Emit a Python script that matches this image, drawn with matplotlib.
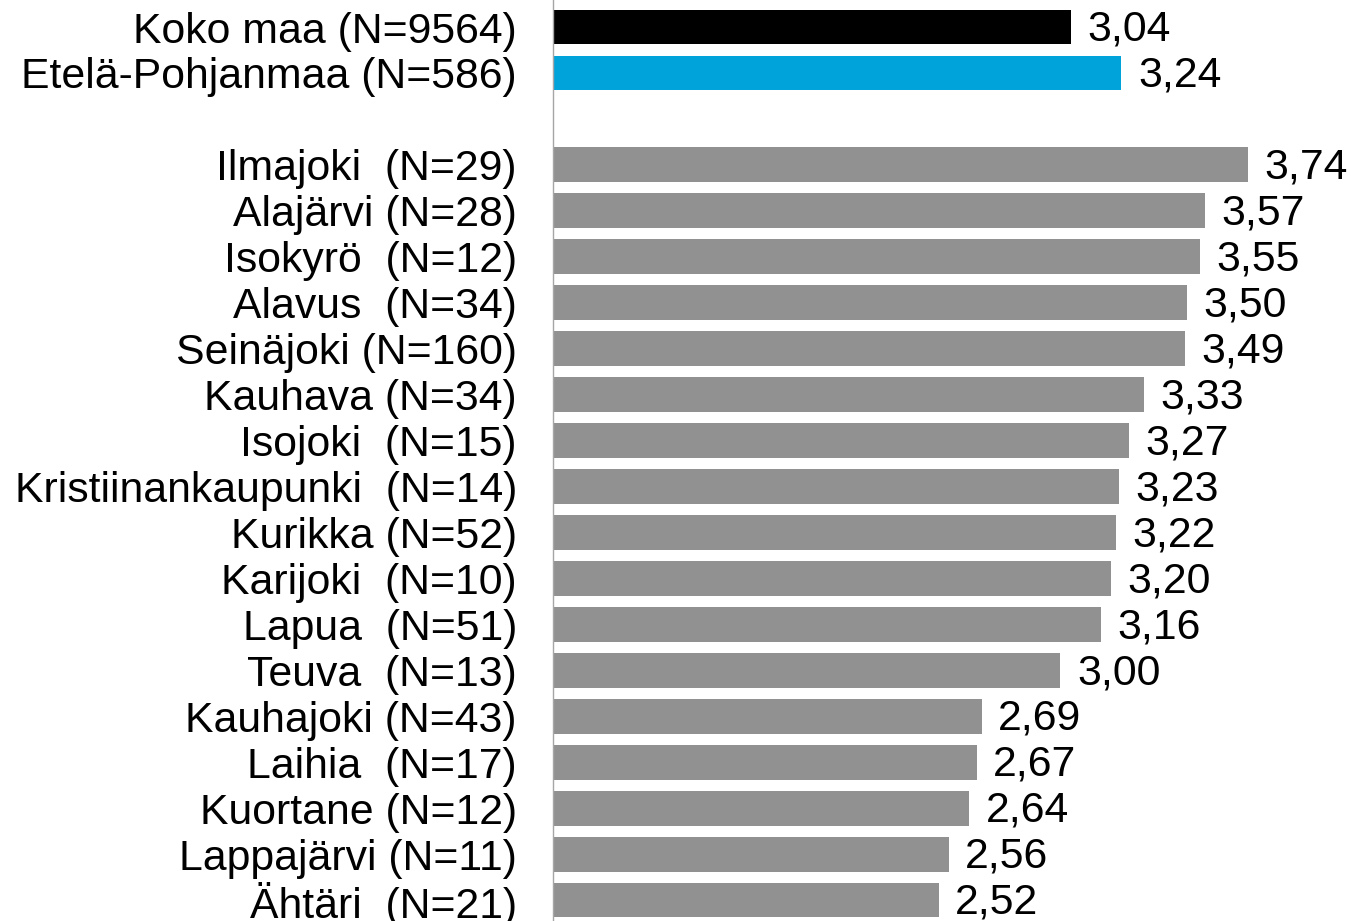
import matplotlib
matplotlib.use("Agg")
import matplotlib.pyplot as plt

plt.rcParams['font.family'] = ['Liberation Sans', 'DejaVu Sans']

# data, top to bottom
labels = ["Koko maa (N=9564)", "Etelä-Pohjanmaa (N=586)", "",
          "Ilmajoki  (N=29)", "Alajärvi (N=28)", "Isokyrö  (N=12)",
          "Alavus  (N=34)", "Seinäjoki (N=160)", "Kauhava (N=34)",
          "Isojoki  (N=15)", "Kristiinankaupunki  (N=14)", "Kurikka (N=52)",
          "Karijoki  (N=10)", "Lapua  (N=51)", "Teuva  (N=13)",
          "Kauhajoki (N=43)", "Laihia  (N=17)", "Kuortane (N=12)",
          "Lappajärvi (N=11)", "Ähtäri  (N=21)"]
values = [3.04, 3.24, None,
          3.74, 3.57, 3.55, 3.50, 3.49, 3.33, 3.27, 3.23, 3.22,
          3.20, 3.16, 3.00, 2.69, 2.67, 2.64, 2.56, 2.52]
colors = ["#000000", "#00a3da", None] + ["#919191"] * 17

fig = plt.figure(figsize=(13.51, 9.21), dpi=100)
ax = fig.add_axes([553 / 1351, 0, 1 - 553 / 1351, 1])

x0 = 1.0
for i, (v, c) in enumerate(zip(values, colors)):
    if v is None:
        continue
    ax.barh(i, v - x0, left=x0, height=0.76, color=c)
    ax.text(v + 0.065, i + 0.06, f"{v:.2f}".replace(".", ","), va="center",
            ha="left", fontsize=30.8)

ax.set_xlim(x0, 4.145)
ax.set_ylim(19.457, -0.588)
ax.set_yticks(range(len(labels)))
ax.set_yticklabels(labels, fontsize=30.8)
ax.tick_params(axis="y", length=0, pad=26)
ax.set_xticks([])
for s in ["top", "right", "bottom"]:
    ax.spines[s].set_visible(False)
ax.spines["left"].set_color("#a6a6a6")
ax.spines["left"].set_linewidth(1)

fig.savefig("out.png", dpi=100)
